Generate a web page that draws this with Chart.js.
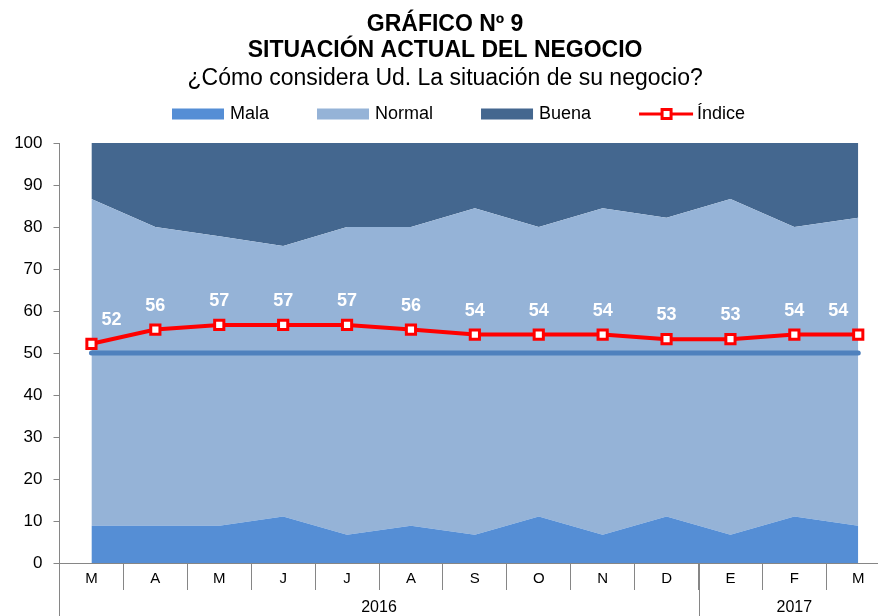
<!DOCTYPE html>
<html>
<head>
<meta charset="utf-8">
<script src="https://cdn.jsdelivr.net/npm/chart.js@4.4.0/dist/chart.umd.min.js"></script>
<style>
  body { margin: 0; overflow: hidden; background: #fff; }
</style>
</head>
<body>
<canvas id="grafico9" width="892" height="616"></canvas>
<script>
// datos (porcentajes)
const meses = ["M", "A", "M", "J", "J", "A", "S", "O", "N", "D", "E", "F", "M"];
const anios = [
  { texto: "2016", desde: 0, hasta: 9 },
  { texto: "2017", desde: 10, hasta: 12 }
];
const mala   = [8.9, 8.9, 8.9, 11.1, 6.7, 8.9, 6.7, 11.1, 6.7, 11.1, 6.7, 11.1, 8.9];
const normal = [77.8, 71.1, 68.9, 64.4, 73.3, 71.1, 77.8, 68.9, 77.8, 71.1, 80.0, 68.9, 73.3];
const buena  = [13.3, 20.0, 22.2, 24.5, 20.0, 20.0, 15.5, 20.0, 15.5, 17.8, 13.3, 20.0, 17.8];
const indice = [52.2, 55.6, 56.7, 56.7, 56.7, 55.6, 54.4, 54.4, 54.4, 53.3, 53.3, 54.4, 54.4];
const neutro = [50, 50, 50, 50, 50, 50, 50, 50, 50, 50, 50, 50, 50];

const fuente = "'Liberation Sans', Arial, sans-serif";
Chart.defaults.font.family = fuente;
Chart.defaults.color = "#000";

/* leyenda dibujada a mano */
const leyenda = {
  id: "leyenda",
  afterDraw(chart) {
    const ctx = chart.ctx;
    const items = [2, 3, 4, 0].map(i => chart.data.datasets[i]);
    ctx.save();
    ctx.font = "18px " + fuente;
    ctx.textBaseline = "middle";
    const y = 114;
    let x = 172;
    items.forEach(ds => {
      if (ds.pointStyle === "rect") {
        ctx.strokeStyle = ds.borderColor;
        ctx.lineWidth = 3;
        ctx.beginPath();
        ctx.moveTo(x, y);
        ctx.lineTo(x + 54, y);
        ctx.stroke();
        ctx.fillStyle = "#fff";
        ctx.fillRect(x + 23, y - 4.5, 9, 9);
        ctx.strokeRect(x + 23, y - 4.5, 9, 9);
        x += 58;
      } else {
        ctx.fillStyle = ds.backgroundColor;
        ctx.fillRect(x, y - 5.5, 52, 11);
        x += 58;
      }
      ctx.fillStyle = "#000";
      ctx.fillText(ds.label, x, y);
      x += ctx.measureText(ds.label).width + 48;
    });
    ctx.restore();
  }
};

/* separadores y rotulos de años */
const anual = {
  id: "anual",
  afterDraw(chart) {
    const ctx = chart.ctx;
    const xs = chart.scales.x;
    const paso = xs.getPixelForValue(1) - xs.getPixelForValue(0);
    ctx.save();
    ctx.strokeStyle = "#868686";
    ctx.lineWidth = 1;
    ctx.font = "16px " + fuente;
    ctx.fillStyle = "#000";
    ctx.textAlign = "center";
    ctx.textBaseline = "middle";
    anios.forEach(a => {
      const izq = xs.getPixelForValue(a.desde) - paso / 2;
      const der = xs.getPixelForValue(a.hasta) + paso / 2;
      const px = Math.round(izq) + 0.5;
      ctx.beginPath();
      ctx.moveTo(px, xs.top);
      ctx.lineTo(px, chart.height);
      ctx.stroke();
      ctx.fillText(a.texto, (izq + der) / 2, 608);
    });
    ctx.restore();
  }
};

/* valores del indice */
const etiquetas = {
  id: "etiquetas",
  afterDatasetsDraw(chart) {
    const ctx = chart.ctx;
    const meta = chart.getDatasetMeta(0);
    const ultimo = meta.data.length - 1;
    ctx.save();
    ctx.font = "bold 18px " + fuente;
    ctx.fillStyle = "#fff";
    ctx.textAlign = "center";
    ctx.textBaseline = "middle";
    meta.data.forEach((p, i) => {
      let dx = 0;
      if (i === 0) dx = 20;
      if (i === ultimo) dx = -20;
      ctx.fillText(Math.round(indice[i]), p.x + dx, p.y - 24);
    });
    ctx.restore();
  }
};

new Chart("grafico9", {
  type: "line",
  data: {
    labels: meses,
    datasets: [{
      label: "Índice",
      data: indice,
      stack: "i",
      borderColor: "#FF0000",
      borderWidth: 4,
      pointStyle: "rect",
      pointRadius: 6.5,
      pointBorderWidth: 3,
      pointBackgroundColor: "#fff",
      pointBorderColor: "#FF0000",
      fill: false,
      tension: 0
    }, {
      label: "50",
      data: neutro,
      stack: "r",
      borderColor: "#4F81BD",
      borderWidth: 5,
      borderCapStyle: "round",
      pointRadius: 0,
      fill: false
    }, {
      label: "Mala",
      data: mala,
      stack: "a",
      backgroundColor: "#558ED5",
      borderWidth: 0,
      pointRadius: 0,
      fill: "origin",
      tension: 0
    }, {
      label: "Normal",
      data: normal,
      stack: "a",
      backgroundColor: "#95B3D7",
      borderWidth: 0,
      pointRadius: 0,
      fill: "-1",
      tension: 0
    }, {
      label: "Buena",
      data: buena,
      stack: "a",
      backgroundColor: "#44678F",
      borderWidth: 0,
      pointRadius: 0,
      fill: "-1",
      tension: 0
    }]
  },
  options: {
    responsive: false,
    animation: false,
    layout: { autoPadding: false, padding: { left: 0, right: 1.8, top: 0, bottom: 0 } },
    plugins: {
      legend: { display: false },
      tooltip: { enabled: false },
      title: {
        display: true,
        text: ["GRÁFICO Nº 9", "SITUACIÓN ACTUAL DEL NEGOCIO"],
        color: "#000",
        font: { size: 23, weight: "bold", lineHeight: 1.12 },
        padding: { top: 12, bottom: 0 }
      },
      subtitle: {
        display: true,
        text: "¿Cómo considera Ud. La situación de su negocio?",
        color: "#000",
        font: { size: 23, lineHeight: 1.2 },
        padding: { top: 1, bottom: 51 }
      }
    },
    scales: {
      x: {
        type: "category",
        offset: true,
        grid: {
          offset: true,
          drawOnChartArea: false,
          drawTicks: true,
          tickLength: 27,
          color: "#868686"
        },
        border: { color: "#868686" },
        ticks: { font: { size: 15 }, padding: -20, maxRotation: 0, autoSkip: false },
        afterFit: s => {
          s.height = 53;
          s.paddingLeft = 0;
          s.paddingRight = 0;
        }
      },
      y: {
        stacked: true,
        min: 0,
        max: 100,
        grid: { drawOnChartArea: false, tickLength: 6, color: "#868686" },
        border: { color: "#868686" },
        ticks: { stepSize: 10, font: { size: 17 }, padding: 11 },
        afterFit: s => { s.width = 59.5; }
      }
    }
  },
  plugins: [leyenda, anual, etiquetas]
});
</script>
</body>
</html>
